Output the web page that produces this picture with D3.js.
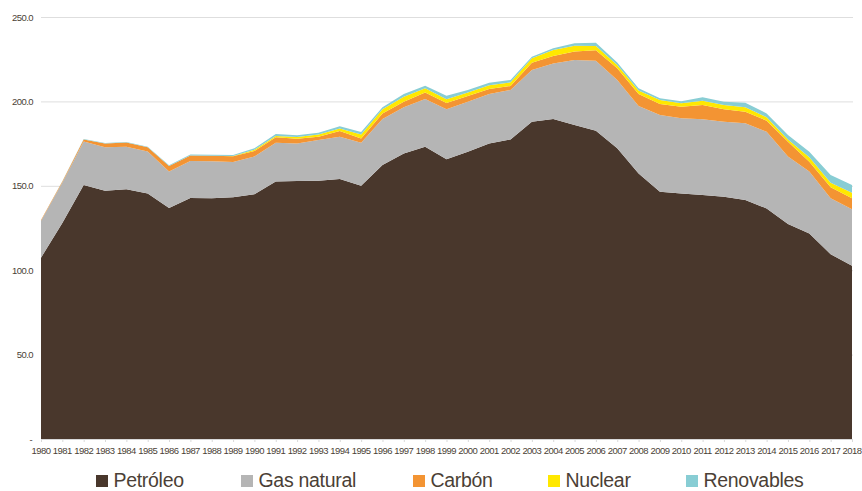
<!DOCTYPE html>
<html lang="es">
<head>
<meta charset="UTF-8">
<title>Consumo de energía por fuente</title>
<script src="https://d3js.org/d3.v7.min.js"></script>
<style>
    body { margin: 0; background: #fff; }
    svg { display: block; font-family: "Liberation Sans", Arial, sans-serif; }
    .tick-label { font-size: 9.5px; fill: #4b3f36; letter-spacing: -0.55px; }
    .legend-text { font-size: 19.5px; fill: #4b3f36; letter-spacing: -0.3px; }
</style>
</head>
<body>
<svg id="chart" width="862" height="491"></svg>
<script>
    const years = d3.range(1980, 2019);
    const petroleo = [107.4, 128.0, 150.5, 147.0, 148.0, 145.4, 136.8, 142.8, 142.6, 143.2,
        145.0, 152.5, 152.8, 153.0, 154.0, 150.0, 162.3, 169.2, 173.2, 165.7,
        170.2, 175.1, 177.5, 188.0, 189.6, 186.0, 182.6, 172.2, 157.3, 146.5,
        145.5, 144.5, 143.5, 141.6, 136.6, 127.4, 121.8, 109.4, 102.7];
    const gasNatural = [21.9, 24.0, 25.7, 25.8, 25.2, 24.9, 21.6, 21.9, 22.0, 20.9,
        22.3, 23.0, 22.3, 24.1, 25.0, 25.5, 27.3, 27.3, 28.2, 29.6,
        29.6, 29.3, 29.3, 30.6, 32.9, 38.5, 41.5, 40.5, 40.0, 45.4,
        44.5, 44.9, 44.5, 45.4, 45.4, 39.9, 36.6, 33.2, 33.4];
    const carbon = [0.4, 0.6, 1.3, 2.3, 2.5, 2.5, 3.3, 3.3, 3.2, 3.4,
        3.3, 3.2, 2.8, 1.9, 3.5, 2.5, 3.3, 3.3, 3.9, 3.7,
        3.4, 2.9, 2.3, 4.3, 4.4, 5.0, 6.2, 6.9, 7.1, 6.6,
        6.9, 8.5, 7.3, 6.9, 6.6, 8.8, 5.9, 6.5, 6.5];
    const nuclear = [0, 0, 0, 0, 0, 0, 0, 0, 0, 0.2,
        0.8, 0.8, 1.0, 1.4, 1.5, 2.4, 2.4, 3.0, 2.5, 2.3,
        2.1, 2.2, 2.2, 2.7, 3.6, 3.5, 2.5, 2.0, 2.0, 2.3,
        2.0, 2.5, 2.6, 2.6, 2.0, 1.4, 2.6, 2.7, 3.3];
    const renovables = [0.1, 0.1, 0.2, 0.2, 0.3, 0.3, 0.5, 0.6, 0.6, 0.6,
        0.8, 1.2, 1.0, 1.0, 1.3, 1.5, 1.2, 1.6, 1.5, 2.1,
        1.5, 1.6, 1.4, 0.9, 1.0, 1.5, 2.0, 1.4, 1.4, 1.0,
        1.2, 2.0, 1.9, 2.7, 2.3, 2.6, 3.3, 4.6, 4.6];
    const yTicks = [0, 50, 100, 150, 200, 250];

    const series = [
        { key: "Petróleo", values: petroleo, color: "#49372c" },
        { key: "Gas natural", values: gasNatural, color: "#b5b5b5" },
        { key: "Carbón", values: carbon, color: "#f39433" },
        { key: "Nuclear", values: nuclear, color: "#ffe800" },
        { key: "Renovables", values: renovables, color: "#88cdd4" }
    ];

    const table = years.map((yr, i) => {
        const row = { year: yr };
        series.forEach(s => { row[s.key] = s.values[i]; });
        return row;
    });

    const svg = d3.select("#chart");
    const plotLeft = 41, plotRight = 852, plotTop = 17, plotBottom = 439;

    const x = d3.scaleLinear().domain([1980, 2018]).range([plotLeft, plotRight]);
    const y = d3.scaleLinear().domain([0, 250]).range([plotBottom, plotTop]);

    // grid lines
    svg.append("g")
        .selectAll("line")
        .data(yTicks.filter(d => d > 0))
        .enter()
        .append("line")
        .attr("x1", plotLeft)
        .attr("x2", plotRight + 1)
        .attr("y1", d => y(d) + 0.5)
        .attr("y2", d => y(d) + 0.5)
        .attr("stroke", "#dedede")
        .attr("stroke-width", 1);

    const stack = d3.stack().keys(series.map(s => s.key));
    const layers = stack(table);

    const area = d3.area()
        .x(d => x(d.data.year))
        .y0(d => y(d[0]))
        .y1(d => y(d[1]));

    svg.append("g")
        .selectAll("path")
        .data(layers)
        .enter()
        .append("path")
        .attr("d", area)
        .attr("fill", (d, i) => series[i].color);

    // x axis baseline and ticks
    svg.append("line")
        .attr("x1", plotLeft).attr("x2", plotRight)
        .attr("y1", plotBottom + 0.5).attr("y2", plotBottom + 0.5)
        .attr("stroke", "#d9d9d9");

    svg.append("g")
        .selectAll("line")
        .data(years)
        .enter()
        .append("line")
        .attr("x1", d => x(d) + 0.5)
        .attr("x2", d => x(d) + 0.5)
        .attr("y1", plotBottom)
        .attr("y2", plotBottom + 3)
        .attr("stroke", "#d9d9d9");

    svg.append("g")
        .selectAll("text")
        .data(years)
        .enter()
        .append("text")
        .attr("class", "tick-label")
        .attr("x", d => x(d))
        .attr("y", 454)
        .attr("text-anchor", "middle")
        .text(d => d);

    // y labels
    svg.append("g")
        .selectAll("text")
        .data(yTicks)
        .enter()
        .append("text")
        .attr("class", "tick-label")
        .attr("x", d => d === 0 ? 32 : 33)
        .attr("y", d => y(d) + 3.5)
        .attr("text-anchor", "end")
        .text(d => d === 0 ? "-" : d3.format(".1f")(d));

    // legend
    const legendX = [96, 241, 413, 548, 686];
    const legend = svg.append("g")
        .selectAll("g")
        .data(series)
        .enter()
        .append("g")
        .attr("transform", (d, i) => `translate(${legendX[i]},0)`);

    legend.append("rect")
        .attr("x", 0)
        .attr("y", 475)
        .attr("width", 12)
        .attr("height", 12)
        .attr("fill", d => d.color);

    legend.append("text")
        .attr("class", "legend-text")
        .attr("x", 17.5)
        .attr("y", 487)
        .text(d => d.key);
</script>
</body>
</html>
